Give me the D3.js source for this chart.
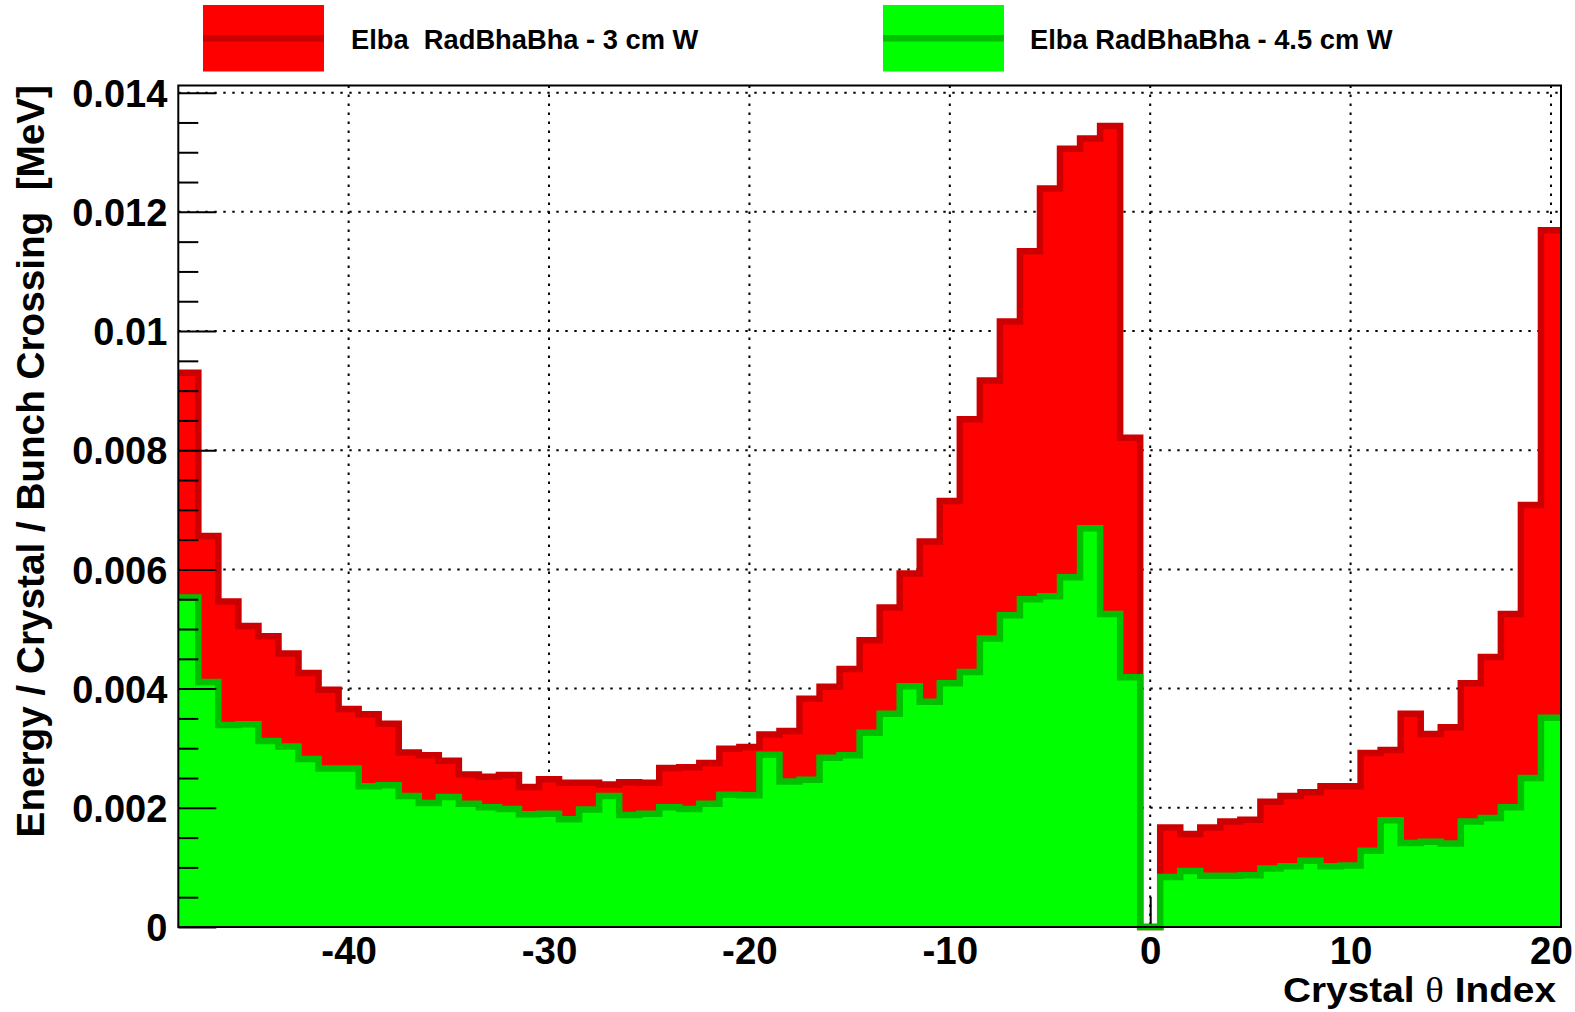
<!DOCTYPE html>
<html>
<head>
<meta charset="utf-8">
<script src="https://cdnjs.cloudflare.com/ajax/libs/d3/7.8.5/d3.min.js"></script>
<style>
    body { margin: 0; background: #fff; }
    svg text { font-family: "Liberation Sans", Arial, Helvetica, sans-serif; font-weight: bold; white-space: pre; }
</style>
</head>
<body>
<div id="chart"></div>
<script>
(function () {
    'use strict';

    // crystal theta index, one bin per crystal
    var thetaIndex = [-48, -47, -46, -45, -44, -43, -42, -41, -40, -39, -38, -37, -36, -35, -34, -33,
        -32, -31, -30, -29, -28, -27, -26, -25, -24, -23, -22, -21, -20, -19, -18, -17, -16, -15,
        -14, -13, -12, -11, -10, -9, -8, -7, -6, -5, -4, -3, -2, -1, 0, 1, 2, 3, 4, 5, 6, 7, 8, 9,
        10, 11, 12, 13, 14, 15, 16, 17, 18, 19, 20];

    // Elba RadBhaBha - 3 cm W
    var energy3cm = [0.00930, 0.00656, 0.00546, 0.00505, 0.00488, 0.00459, 0.00426, 0.00398,
        0.00366, 0.00357, 0.00341, 0.00293, 0.00288, 0.00279, 0.00256, 0.00252, 0.00255, 0.00235,
        0.00248, 0.00242, 0.00242, 0.00239, 0.00243, 0.00242, 0.00267, 0.00268, 0.00275, 0.00299,
        0.00302, 0.00323, 0.00329, 0.00383, 0.00403, 0.00433, 0.00481, 0.00536, 0.00593, 0.00647,
        0.00715, 0.00852, 0.00917, 0.01016, 0.01134, 0.01239, 0.01306, 0.01323, 0.01344, 0.00821,
        0, 0.00167, 0.00156, 0.00167, 0.00177, 0.00180, 0.00210, 0.00220, 0.00226, 0.00236,
        0.00236, 0.00292, 0.00297, 0.00358, 0.00324, 0.00335, 0.00409, 0.00453, 0.00525, 0.00708,
        0.01169];

    // Elba RadBhaBha - 4.5 cm W
    var energy45cm = [0.00553, 0.00411, 0.00339, 0.00340, 0.00312, 0.00303, 0.00282, 0.00266,
        0.00266, 0.00236, 0.00238, 0.00220, 0.00208, 0.00218, 0.00207, 0.00201, 0.00198, 0.00189,
        0.00190, 0.00181, 0.00197, 0.00220, 0.00188, 0.00190, 0.00201, 0.00198, 0.00207, 0.00222,
        0.00221, 0.00289, 0.00244, 0.00247, 0.00284, 0.00288, 0.00326, 0.00358, 0.00404, 0.00378,
        0.00409, 0.00428, 0.00484, 0.00523, 0.00550, 0.00555, 0.00587, 0.00669, 0.00525, 0.00419,
        0, 0.00084, 0.00094, 0.00086, 0.00086, 0.00087, 0.00098, 0.00102, 0.00111, 0.00102,
        0.00103, 0.00128, 0.00179, 0.00141, 0.00143, 0.00140, 0.00177, 0.00183, 0.00201, 0.00250,
        0.00351];

    var xTicks = [-40, -30, -20, -10, 0, 10, 20];
    var xTickLabels = ["-40", "-30", "-20", "-10", "0", "10", "20"];
    var yTicks = [0, 0.002, 0.004, 0.006, 0.008, 0.01, 0.012, 0.014];
    var yTickLabels = ["0", "0.002", "0.004", "0.006", "0.008", "0.01", "0.012", "0.014"];

    var seriesNames = ["Elba  RadBhaBha - 3 cm W", "Elba RadBhaBha - 4.5 cm W"];

    var w = 1575,
        h = 1012;
    var left = 178.3, right = 1561, top = 85.5, bottom = 927;

    var svg = d3.select("#chart").append("svg")
        .attr("width", w)
        .attr("height", h);

    var x = d3.scaleLinear().domain([-48.5, 20.5]).range([left, right]);
    var y = d3.scaleLinear().domain([0, 0.01412]).range([bottom, top]);

    // dotted grid
    svg.append("g").selectAll("line.vgrid")
        .data(xTicks)
        .enter().append("line")
        .attr("x1", function (d) { return x(d); })
        .attr("x2", function (d) { return x(d); })
        .attr("y1", top)
        .attr("y2", bottom)
        .style("stroke", "#000")
        .style("stroke-width", 2)
        .style("stroke-dasharray", "2.4 6.6");

    svg.append("g").selectAll("line.hgrid")
        .data(yTicks.filter(function (d) { return d > 0; }))
        .enter().append("line")
        .attr("x1", left)
        .attr("x2", right)
        .attr("y1", function (d) { return y(d); })
        .attr("y2", function (d) { return y(d); })
        .style("stroke", "#000")
        .style("stroke-width", 2)
        .style("stroke-dasharray", "2.4 6.6");

    // x axis (ticks pointing up, mostly hidden under the histograms)
    var xAxis = d3.axisBottom(x)
        .tickValues(xTicks)
        .tickSize(-30)
        .tickPadding(10)
        .tickFormat(function (d, i) { return xTickLabels[i]; });

    var gx = svg.append("g")
        .attr("transform", "translate(0," + bottom + ")")
        .call(xAxis);
    gx.select(".domain").remove();
    gx.selectAll("line").style("stroke-width", 2);
    gx.attr("font-family", null).attr("font-size", null);
    gx.selectAll("text")
        .attr("font-size", 38.5)
        .attr("fill", "#000");

    // step histograms
    function stepPoints(values) {
        var pts = [];
        thetaIndex.forEach(function (t, i) {
            pts.push([t - 0.5, values[i]]);
            pts.push([t + 0.5, values[i]]);
        });
        return pts;
    }

    var area = d3.area()
        .x(function (d) { return x(d[0]); })
        .y0(y(0))
        .y1(function (d) { return y(d[1]); });

    var line = d3.line()
        .x(function (d) { return x(d[0]); })
        .y(function (d) { return y(d[1]); });

    var series = [
        { values: energy3cm, fill: "#ff0000", stroke: "#cc0000" },
        { values: energy45cm, fill: "#00ff00", stroke: "#00c000" }
    ];

    series.forEach(function (s) {
        var pts = stepPoints(s.values);
        svg.append("path")
            .datum(pts)
            .attr("d", area)
            .style("fill", s.fill)
            .style("stroke", "none");
        svg.append("path")
            .datum(pts)
            .attr("d", line)
            .style("fill", "none")
            .style("stroke", s.stroke)
            .style("stroke-width", 6.5)
            .style("stroke-linejoin", "miter")
            .style("stroke-linecap", "butt");
    });

    // frame
    svg.append("rect")
        .attr("x", left)
        .attr("y", top)
        .attr("width", right - left)
        .attr("height", bottom - top)
        .style("fill", "none")
        .style("stroke", "#000")
        .style("stroke-width", 2);

    // y axis, ticks pointing inwards
    var yMinor = d3.range(0, 0.0141, 0.0005).filter(function (d) {
        return Math.abs(d / 0.002 - Math.round(d / 0.002)) > 1e-6;
    });

    var gyMinor = svg.append("g")
        .attr("transform", "translate(" + left + ",0)")
        .call(d3.axisLeft(y).tickValues(yMinor).tickSize(-20).tickFormat(""));
    gyMinor.select(".domain").remove();
    gyMinor.selectAll("line").style("stroke-width", 2);

    var gy = svg.append("g")
        .attr("transform", "translate(" + left + ",0)")
        .call(d3.axisLeft(y)
            .tickValues(yTicks)
            .tickSize(-38)
            .tickPadding(11)
            .tickFormat(function (d, i) { return yTickLabels[i]; }));
    gy.select(".domain").remove();
    gy.selectAll("line").style("stroke-width", 2);
    gy.attr("font-family", null).attr("font-size", null);
    gy.selectAll("text")
        .attr("font-size", 38)
        .attr("dy", "0.36em")
        .attr("fill", "#000");

    // axis titles
    var xTitle = svg.append("text")
        .attr("x", 1283)
        .attr("y", 1002)
        .attr("font-size", 35)
        .attr("textLength", 273)
        .attr("lengthAdjust", "spacingAndGlyphs")
        .attr("fill", "#000");
    xTitle.append("tspan").text("Crystal ");
    xTitle.append("tspan")
        .style("font-family", "'Liberation Serif', 'DejaVu Serif', serif")
        .style("font-weight", "normal")
        .text("\u03b8");
    xTitle.append("tspan").text(" Index");

    svg.append("text")
        .attr("transform", "translate(43.5,85) rotate(-90)")
        .attr("text-anchor", "end")
        .attr("font-size", 38.7)
        .attr("fill", "#000")
        .text("Energy / Crystal / Bunch Crossing  [MeV]");

    // legend
    var legend = [
        { box: 203, text: 351, fill: "#ff0000", stroke: "#cc0000" },
        { box: 883, text: 1030, fill: "#00ff00", stroke: "#00c000" }
    ];

    legend.forEach(function (d, i) {
        svg.append("rect")
            .attr("x", d.box)
            .attr("y", 5)
            .attr("width", 121)
            .attr("height", 66.5)
            .style("fill", d.fill);
        svg.append("line")
            .attr("x1", d.box)
            .attr("x2", d.box + 121)
            .attr("y1", 38.3)
            .attr("y2", 38.3)
            .style("stroke", d.stroke)
            .style("stroke-width", 6.5);
        svg.append("text")
            .attr("x", d.text)
            .attr("y", 49)
            .attr("font-size", 27.3)
            .attr("fill", "#000")
            .text(seriesNames[i]);
    });
})();
</script>
</body>
</html>
